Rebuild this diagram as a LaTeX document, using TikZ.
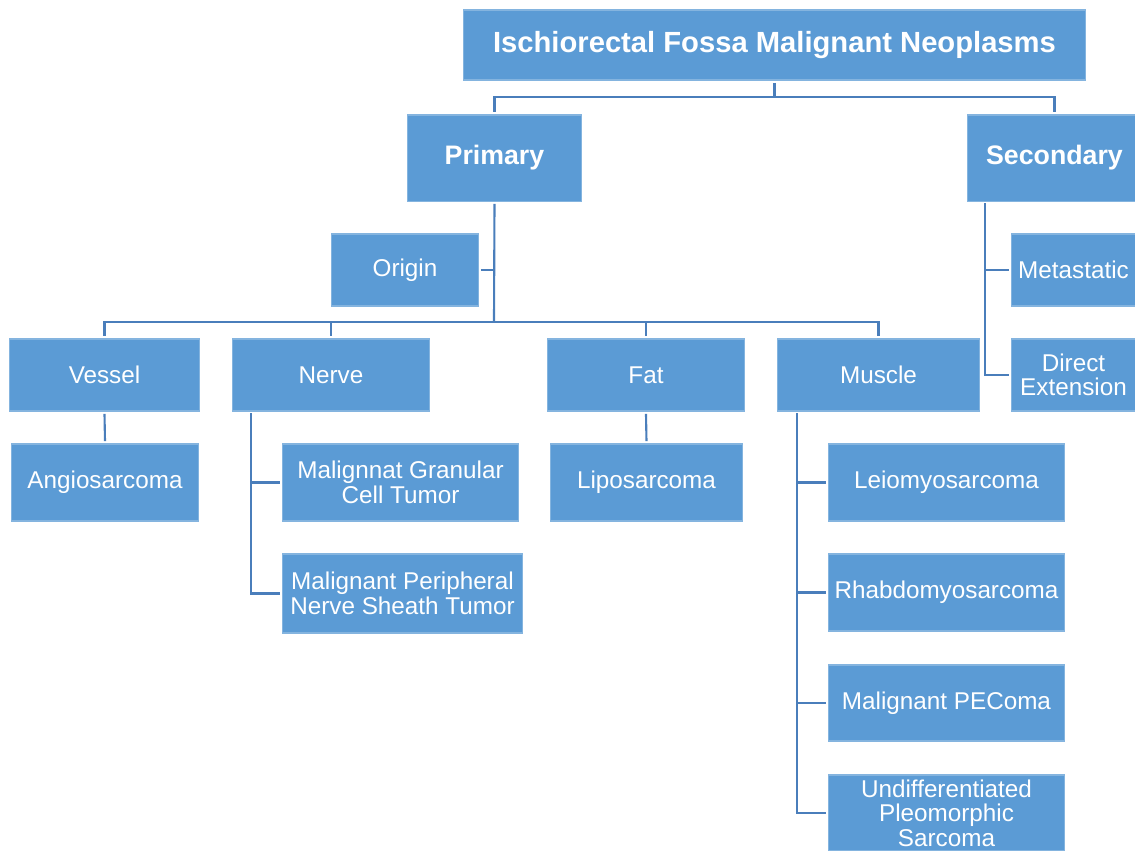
\documentclass[tikz,border=0pt]{standalone}
\usepackage{fontspec}
\setmainfont{Liberation Sans}
\usepackage{tikz}
\definecolor{boxblue}{HTML}{5B9BD5}
\definecolor{linkblue}{HTML}{4A7EBB}

\begin{document}
\begin{tikzpicture}[x=0.01cm, y=-0.01cm,
    box/.style={rectangle, fill=boxblue, draw=boxblue!75!white, line width=0.3pt,
      inner sep=0pt, outer sep=0.8pt, align=center, text=white,
      font=\fontsize{6.9}{7}\selectfont},
    headbox/.style={box, font=\fontsize{7.6}{8}\selectfont\bfseries},
    link/.style={draw=linkblue, line width=0.6pt}]
  \useasboundingbox (0,0) rectangle (1135,851);

  % Top
  \node [box, font=\fontsize{8.3}{9}\selectfont\bfseries, minimum width=6.21cm,
    minimum height=0.70cm] (title) at (774.5,45) {Ischiorectal Fossa Malignant Neoplasms};
  \node [headbox, minimum width=1.73cm, minimum height=0.86cm] (primary) at (494.5,158) {Primary};
  \node [headbox, minimum width=1.73cm, minimum height=0.86cm] (secondary) at (1054.5,158) {Secondary};

  % Second level
  \node [box, minimum width=1.46cm, minimum height=0.72cm] (origin) at (405,270) {Origin};
  \node [box, minimum width=1.23cm, minimum height=0.72cm] (metastatic) at (1073.5,270) {Metastatic};
  \node [box, minimum width=1.23cm, minimum height=0.72cm] (direct) at (1073.5,375) {Direct\\Extension};
  \node [box, minimum width=1.89cm, minimum height=0.72cm] (vessel) at (104.5,375) {Vessel};
  \node [box, minimum width=1.96cm, minimum height=0.72cm] (nerve) at (331,375) {Nerve};
  \node [box, minimum width=1.96cm, minimum height=0.72cm] (fat) at (646,375) {Fat};
  \node [box, minimum width=2.01cm, minimum height=0.72cm] (muscle) at (878.5,375) {Muscle};

  % Tumours
  \node [box, minimum width=1.86cm, minimum height=0.77cm] (angio) at (105,482.5) {Angiosarcoma};
  \node [box, minimum width=2.35cm, minimum height=0.77cm] (granular) at (400.5,482.5) {Malignnat Granular\\Cell Tumor};
  \node [box, minimum width=2.39cm, minimum height=0.79cm] (sheath) at (402.5,593.5) {Malignant Peripheral\\Nerve Sheath Tumor};
  \node [box, minimum width=1.91cm, minimum height=0.77cm] (lipo) at (646.5,482.5) {Liposarcoma};
  \node [box, minimum width=2.35cm, minimum height=0.77cm] (leio) at (946.5,482.5) {Leiomyosarcoma};
  \node [box, minimum width=2.35cm, minimum height=0.77cm] (rhabdo) at (946.5,592.5) {Rhabdomyosarcoma};
  \node [box, minimum width=2.35cm, minimum height=0.76cm] (pecoma) at (946.5,703) {Malignant PEComa};
  \node [box, minimum width=2.35cm, minimum height=0.76cm] (ups) at (946.5,813) {Undifferentiated\\Pleomorphic\\Sarcoma};

  % Buses
  \coordinate (topbus) at (774.5,97);
  \coordinate (pbus) at (494,322);
  \coordinate (nbus) at (251,413);
  \coordinate (mbus) at (797,413);
  \coordinate (sbus) at (985,203);

  \draw [link] (title.south) -- (topbus);
  \draw [link] (topbus) -| (primary.north);
  \draw [link] (topbus) -| (secondary.north);

  \draw [link] (primary.south) -- (pbus);
  \draw [link] (origin.east) -- (origin.east -| pbus);
  \draw [link] (pbus) -| (vessel.north);
  \draw [link] (pbus) -| (nerve.north);
  \draw [link] (pbus) -| (fat.north);
  \draw [link] (pbus) -| (muscle.north);

  \draw [link] (sbus) |- (metastatic.west);
  \draw [link] (sbus) |- (direct.west);

  \draw [link] (vessel.south) -- (angio.north);
  \draw [link] (fat.south) -- (lipo.north);
  \draw [link] (nbus) |- (granular.west);
  \draw [link] (nbus) |- (sheath.west);
  \draw [link] (mbus) |- (leio.west);
  \draw [link] (mbus) |- (rhabdo.west);
  \draw [link] (mbus) |- (pecoma.west);
  \draw [link] (mbus) |- (ups.west);
\end{tikzpicture}
\end{document}
